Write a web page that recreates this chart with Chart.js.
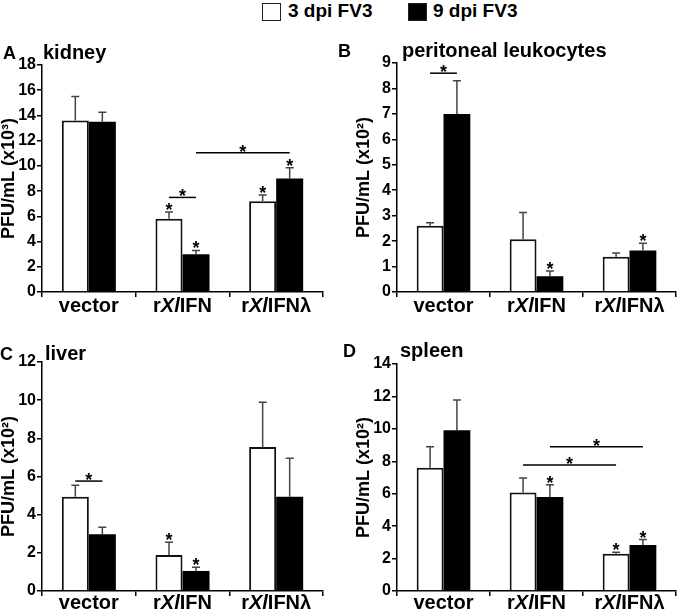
<!DOCTYPE html>
<html>
<head>
<meta charset="utf-8">
<script src="https://cdn.jsdelivr.net/npm/chart.js@4/dist/chart.umd.min.js"></script>
<style>
  html, body { margin: 0; padding: 0; background: #fff; overflow: hidden; }
  body { width: 680px; height: 611px; position: relative; font-family: "Liberation Sans", Arial, sans-serif; }
  canvas { position: absolute; }
  .legend-box { position: absolute; top: 3px; width: 17px; height: 16px; border: 1.5px solid #222; }
  .legend-text { position: absolute; top: 0px; font-weight: bold; font-size: 19px; color: #000; }
</style>
</head>
<body>
<div id="legend"></div>
<canvas id="panelA" width="340" height="280" style="left:0px;top:40px"></canvas>
<canvas id="panelB" width="345" height="280" style="left:335px;top:40px"></canvas>
<canvas id="panelC" width="340" height="291" style="left:0px;top:320px"></canvas>
<canvas id="panelD" width="345" height="291" style="left:335px;top:320px"></canvas>
<script>
const categories = ['vector', 'rXlIFN', 'rXlIFNλ'];
// same labels split into plain / italic pieces
const categoryParts = [
  [['vector', false]],
  [['r', false], ['Xl', true], ['IFN', false]],
  [['r', false], ['Xl', true], ['IFNλ', false]]
];
const seriesNames = ['3 dpi FV3', '9 dpi FV3'];

// A kidney (x10^3)
const kidney3dpi = [13.6, 5.8, 7.2];
const kidney3dpiErr = [1.9, 0.55, 0.5];
const kidney9dpi = [13.5, 3.0, 9.0];
const kidney9dpiErr = [0.75, 0.3, 0.85];

// B peritoneal leukocytes (x10^2)
const periton3dpi = [2.6, 2.07, 1.39];
const periton3dpiErr = [0.12, 1.05, 0.14];
const periton9dpi = [7.0, 0.62, 1.63];
const periton9dpiErr = [1.3, 0.21, 0.29];

// C liver (x10^2)
const liver3dpi = [4.94, 1.89, 7.55];
const liver3dpiErr = [0.6, 0.66, 2.34];
const liver9dpi = [2.97, 1.05, 4.94];
const liver9dpiErr = [0.37, 0.19, 2.01];

// D spleen (x10^2)
const spleen3dpi = [7.6, 6.07, 2.3];
const spleen3dpiErr = [1.3, 0.9, 0.09];
const spleen9dpi = [9.91, 5.8, 2.84];
const spleen9dpiErr = [1.87, 0.76, 0.33];

const yMaxima = [18, 9, 12, 14];
const yStepSizes = [2, 1, 2, 2];
const yTitles = ['PFU/mL (x10³)', 'PFU/mL (x10²)', 'PFU/mL (x10²)', 'PFU/mL (x10²)'];
const panelLetters = ['A', 'B', 'C', 'D'];
const panelTitles = ['kidney', 'peritoneal leukocytes', 'liver', 'spleen'];

// stars over bars: [category, series]
const starsA = [[1, 0], [1, 1], [2, 0], [2, 1]];
const starsB = [[1, 1], [2, 1]];
const starsC = [[1, 0], [1, 1]];
const starsD = [[1, 1], [2, 0], [2, 1]];
// comparison lines: [cat1, series1, cat2, series2, y value]
const bracketsA = [[1, 0, 1, 1, 7.5], [1, 1, 2, 1, 11.05]];
const bracketsB = [[0, 0, 0, 1, 8.6]];
const bracketsC = [[0, 0, 0, 1, 5.76]];
const bracketsD = [[1, 0, 2, 0, 7.77], [1, 1, 2, 1, 8.9]];

const FONT = '"Liberation Sans", Arial, sans-serif';

// legend
const legend = document.getElementById('legend');
[[262, 288, '#fff'], [408, 433, '#000']].forEach((pos, i) => {
  const box = document.createElement('div');
  box.className = 'legend-box';
  box.style.left = pos[0] + 'px';
  box.style.background = pos[2];
  legend.appendChild(box);
  const txt = document.createElement('div');
  txt.className = 'legend-text';
  txt.style.left = pos[1] + 'px';
  txt.textContent = seriesNames[i];
  legend.appendChild(txt);
});

const extras = {
  id: 'extras',
  afterDatasetsDraw(chart, args, opts) {
    const ctx = chart.ctx;
    const xs = chart.scales.x, ys = chart.scales.y;
    const area = chart.chartArea;
    const tops = [];
    ctx.save();

    // error bars
    chart.data.datasets.forEach((ds, i) => {
      const meta = chart.getDatasetMeta(i);
      tops[i] = [];
      meta.data.forEach((bar, j) => {
        const yTop = ys.getPixelForValue(ds.data[j] + ds.err[j]);
        tops[i][j] = yTop;
        ctx.strokeStyle = '#444';
        ctx.lineWidth = 1.5;
        ctx.beginPath();
        ctx.moveTo(bar.x, bar.y);
        ctx.lineTo(bar.x, yTop);
        ctx.moveTo(bar.x - 4, yTop);
        ctx.lineTo(bar.x + 4, yTop);
        ctx.stroke();
      });
    });

    ctx.fillStyle = '#000';
    ctx.textAlign = 'center';
    ctx.textBaseline = 'alphabetic';
    ctx.font = 'bold 18px ' + FONT;
    opts.stars.forEach(s => {
      const bar = chart.getDatasetMeta(s[1]).data[s[0]];
      ctx.fillText('*', bar.x, tops[s[1]][s[0]] + 4);
    });

    opts.brackets.forEach(b => {
      const x1 = chart.getDatasetMeta(b[1]).data[b[0]].x;
      const x2 = chart.getDatasetMeta(b[3]).data[b[2]].x;
      const y = ys.getPixelForValue(b[4]);
      ctx.strokeStyle = '#000';
      ctx.lineWidth = 1.5;
      ctx.beginPath();
      ctx.moveTo(x1, y);
      ctx.lineTo(x2, y);
      ctx.stroke();
      ctx.fillText('*', (x1 + x2) / 2, y + 5);
    });

    // category labels with italic parts
    ctx.textAlign = 'left';
    categoryParts.forEach((parts, i) => {
      const fonts = parts.map(p => (p[1] ? 'italic ' : '') + 'bold 20px ' + FONT);
      let total = 0;
      parts.forEach((p, k) => { ctx.font = fonts[k]; total += ctx.measureText(p[0]).width; });
      let x = xs.getPixelForValue(i) - total / 2;
      parts.forEach((p, k) => {
        ctx.font = fonts[k];
        ctx.fillText(p[0], x, area.bottom + opts.labelGap);
        x += ctx.measureText(p[0]).width;
      });
    });

    // panel letter and title
    ctx.font = 'bold 18px ' + FONT;
    ctx.fillText(opts.letter, opts.letterX, opts.titleY);
    ctx.font = 'bold 20px ' + FONT;
    ctx.fillText(opts.title, opts.titleX, opts.titleY);
    ctx.restore();
  }
};

function makePanel(id, n, values, errors, stars, brackets, pad, place) {
  new Chart(document.getElementById(id), {
    type: 'bar',
    data: {
      labels: categories,
      datasets: [
        { label: seriesNames[0], data: values[0], err: errors[0], backgroundColor: '#fff',
          borderColor: '#111', borderWidth: 2 },
        { label: seriesNames[1], data: values[1], err: errors[1], backgroundColor: '#000',
          borderColor: '#000', borderWidth: 0 }
      ]
    },
    options: {
      responsive: false,
      animation: false,
      layout: { padding: pad },
      datasets: { bar: { categoryPercentage: 0.577, barPercentage: 1 } },
      plugins: {
        legend: { display: false },
        tooltip: { enabled: false },
        extras: {
          stars: stars, brackets: brackets,
          letter: panelLetters[n], title: panelTitles[n],
          letterX: place.letterX, titleX: place.titleX, titleY: place.titleY,
          labelGap: place.labelGap
        }
      },
      scales: {
        x: {
          z: 1,
          offset: true,
          grid: { offset: true, drawOnChartArea: false, color: '#000', lineWidth: 1.5, tickLength: 5 },
          border: { color: '#000', width: 1.5 },
          ticks: { display: false },
          afterFit: s => { s.height = 20; }
        },
        y: {
          z: 1,
          min: 0,
          max: yMaxima[n],
          ticks: { stepSize: yStepSizes[n], color: '#000', padding: 1,
                   font: { family: FONT, size: 16, weight: 'bold' } },
          grid: { drawOnChartArea: false, color: '#000', lineWidth: 1.5, tickLength: 5 },
          border: { color: '#000', width: 1.5 },
          title: { display: true, text: yTitles[n], color: '#000', padding: 0,
                   font: { family: FONT, size: 18, weight: 'bold', lineHeight: 1 } },
          afterFit: s => { s.width = 42; }
        }
      }
    },
    plugins: [extras]
  });
}

makePanel('panelA', 0, [kidney3dpi, kidney9dpi], [kidney3dpiErr, kidney9dpiErr], starsA, bracketsA,
  { top: 25, right: 17, bottom: 8, left: 0 }, { letterX: 3, titleX: 43, titleY: 19, labelGap: 20 });
makePanel('panelB', 1, [periton3dpi, periton9dpi], [periton3dpiErr, periton9dpiErr], starsB, bracketsB,
  { top: 23, right: 4, bottom: 8, left: 20 }, { letterX: 3, titleX: 67, titleY: 17, labelGap: 20 });
makePanel('panelC', 2, [liver3dpi, liver9dpi], [liver3dpiErr, liver9dpiErr], starsC, bracketsC,
  { top: 42, right: 17, bottom: 0, left: 0 }, { letterX: 0, titleX: 45, titleY: 40, labelGap: 18 });
makePanel('panelD', 3, [spleen3dpi, spleen9dpi], [spleen3dpiErr, spleen9dpiErr], starsD, bracketsD,
  { top: 44, right: 4, bottom: 0, left: 20 }, { letterX: 8, titleX: 65, titleY: 37, labelGap: 18 });
</script>
</body>
</html>
